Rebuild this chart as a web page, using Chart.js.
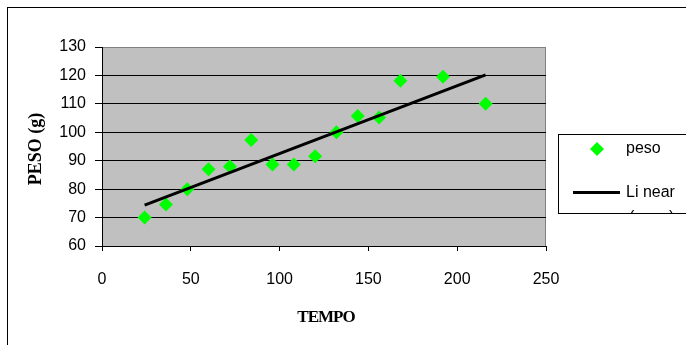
<!DOCTYPE html>
<html>
<head>
<meta charset="utf-8">
<script src="https://cdn.jsdelivr.net/npm/chart.js@4"></script>
<style>
  html, body { margin: 0; padding: 0; background: #fff; }
  canvas { display: block; }
</style>
</head>
<body>
<canvas id="grafico" width="686" height="345"></canvas>
<script>
// dados
const tempo = [24, 36, 48, 60, 72, 84, 96, 108, 120, 132, 144, 156, 168, 192, 216]
const peso = [70, 74.6, 80, 87, 88, 97.3, 88.7, 88.7, 91.6, 100, 105.7, 105.2, 118.1, 119.5, 110]
const linearX = [24, 216]
const linearY = [74.4, 120.2]
const ticksX = [0, 50, 100, 150, 200, 250]
const ticksY = [60, 70, 80, 90, 100, 110, 120, 130]

const verde = '#00FF00'
const fonte = "'Liberation Sans', Arial, sans-serif"
const serifa = "'Liberation Serif', 'Times New Roman', serif"

// fundo cinza da área e moldura externa
const fundo = {
    id: 'fundo',
    beforeDraw(chart) {
        const { ctx, chartArea: a } = chart
        ctx.save()
        ctx.strokeStyle = '#000'
        ctx.lineWidth = 1
        ctx.strokeRect(7.5, 7.5, 700, 400)
        ctx.fillStyle = '#C0C0C0'
        ctx.fillRect(a.left, a.top, a.right - a.left, a.bottom - a.top)
        ctx.strokeStyle = '#808080'
        ctx.beginPath()
        ctx.moveTo(a.left, a.top + 0.5)
        ctx.lineTo(a.right - 0.5, a.top + 0.5)
        ctx.lineTo(a.right - 0.5, a.bottom)
        ctx.stroke()
        ctx.restore()
    }
}

// títulos dos eixos e legenda
const extras = {
    id: 'extras',
    afterDraw(chart) {
        const { ctx, chartArea: a } = chart
        ctx.save()
        ctx.fillStyle = '#000'
        ctx.font = 'bold 17px ' + serifa
        ctx.textAlign = 'center'
        ctx.textBaseline = 'middle'
        ctx.letterSpacing = '-1px'
        ctx.fillText('TEMPO', (a.left + a.right) / 2 + 2, 318)
        ctx.letterSpacing = '0px'
        ctx.save()
        ctx.translate(36, 149)
        ctx.rotate(-Math.PI / 2)
        ctx.font = 'bold 18px ' + serifa
        ctx.fillText('PESO (g)', 0, 0)
        ctx.restore()

        // legenda
        ctx.fillStyle = '#fff'
        ctx.fillRect(558, 134, 140, 79)
        ctx.strokeStyle = '#000'
        ctx.lineWidth = 1
        ctx.strokeRect(558.5, 134.5, 140, 79)
        ctx.fillStyle = verde
        ctx.beginPath()
        ctx.moveTo(597, 142)
        ctx.lineTo(604, 149)
        ctx.lineTo(597, 156)
        ctx.lineTo(590, 149)
        ctx.closePath()
        ctx.fill()
        ctx.strokeStyle = '#000'
        ctx.lineWidth = 3
        ctx.beginPath()
        ctx.moveTo(573, 192.5)
        ctx.lineTo(620, 192.5)
        ctx.stroke()
        ctx.fillStyle = '#000'
        ctx.font = '16px ' + fonte
        ctx.textAlign = 'left'
        ctx.fillText('peso', 626, 149)
        ctx.fillText('Li near', 626, 193)
        ctx.beginPath()
        ctx.rect(559, 135, 139, 78)
        ctx.clip()
        ctx.textBaseline = 'top'
        ctx.fillText('(peso)', 629, 210)
        ctx.restore()
    }
}

new Chart(document.getElementById('grafico'), {
    type: 'scatter',
    data: {
        datasets: [
            {
                label: 'peso',
                data: tempo.map((t, i) => ({ x: t, y: peso[i] })),
                backgroundColor: verde,
                borderColor: verde,
                pointStyle: 'rectRot',
                pointRadius: 7,
                pointHoverRadius: 7,
                borderWidth: 0,
                order: 2
            },
            {
                type: 'line',
                label: 'Li near',
                data: linearX.map((t, i) => ({ x: t, y: linearY[i] })),
                borderColor: '#000',
                borderWidth: 3,
                pointRadius: 0,
                fill: false,
                order: 1
            }
        ]
    },
    options: {
        responsive: false,
        animation: false,
        layout: { padding: { left: 0, top: 47, right: 140, bottom: 0 } },
        plugins: { legend: { display: false }, tooltip: { enabled: false } },
        scales: {
            x: {
                type: 'linear',
                min: 0,
                max: 250,
                afterFit: s => { s.height = 99 },
                afterBuildTicks: s => { s.ticks = ticksX.map(v => ({ value: v })) },
                ticks: { color: '#000', font: { family: fonte, size: 16 }, padding: 19, maxRotation: 0 },
                grid: { drawOnChartArea: false, color: '#000', tickLength: 5 },
                border: { color: '#000', width: 1 }
            },
            y: {
                min: 60,
                max: 130,
                afterFit: s => { s.width = 102 },
                afterBuildTicks: s => { s.ticks = ticksY.map(v => ({ value: v })) },
                ticks: { color: '#000', font: { family: fonte, size: 16 }, padding: 9 },
                grid: {
                    color: c => (c.tick && c.tick.value === 130 ? '#808080' : '#000'),
                    tickColor: '#000',
                    tickLength: 7
                },
                border: { color: '#000', width: 1 }
            }
        }
    },
    plugins: [fundo, extras]
})
</script>
</body>
</html>
